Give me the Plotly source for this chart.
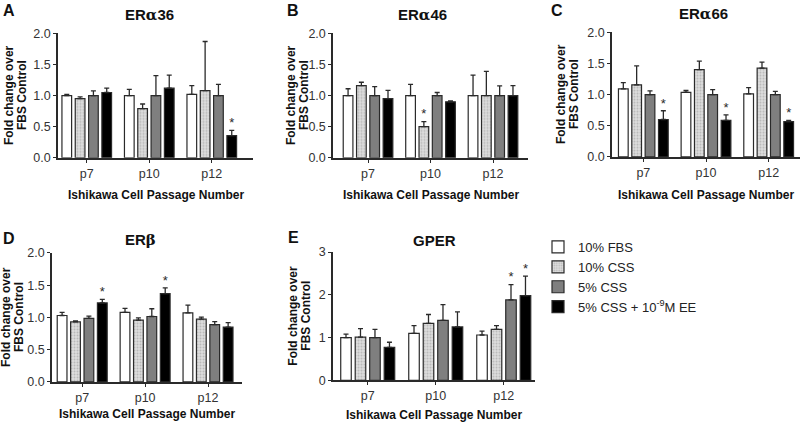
import plotly.graph_objects as go

# passages and treatments
passages = ['p7', 'p10', 'p12']
treatments = ['10% FBS', '10% CSS', '5% CSS', '5% CSS + 10<sup>-9</sup>M EE']

# values per treatment (rows) and passage (columns); sem = upward error bar
era36_mean = [[1.0, 1.0, 1.02], [0.95, 0.79, 1.08], [1.0, 1.0, 1.0], [1.05, 1.12, 0.355]]
era36_sem = [[0.02, 0.10, 0.14], [0.03, 0.075, 0.79], [0.075, 0.32, 0.18], [0.07, 0.21, 0.085]]
era36_sig = [(3, 2)]

era46_mean = [[1.0, 1.0, 1.0], [1.16, 0.5, 1.0], [1.0, 1.0, 1.0], [0.95, 0.9, 1.0]]
era46_sem = [[0.11, 0.18, 0.33], [0.055, 0.08, 0.39], [0.145, 0.05, 0.155], [0.135, 0.015, 0.16]]
era46_sig = [(1, 1)]

era66_mean = [[1.09, 1.035, 1.01], [1.155, 1.40, 1.425], [1.0, 1.0, 1.0], [0.6, 0.585, 0.565]]
era66_sem = [[0.10, 0.03, 0.10], [0.305, 0.135, 0.095], [0.06, 0.08, 0.05], [0.14, 0.09, 0.02]]
era66_sig = [(3, 0), (3, 1), (3, 2)]

erb_mean = [[1.03, 1.08, 1.07], [0.93, 0.96, 0.975], [0.985, 1.015, 0.89], [1.225, 1.37, 0.85]]
erb_sem = [[0.05, 0.06, 0.12], [0.015, 0.035, 0.03], [0.035, 0.12, 0.045], [0.055, 0.09, 0.07]]
erb_sig = [(3, 0), (3, 1)]

gper_mean = [[1.0, 1.10, 1.06], [1.01, 1.33, 1.19], [1.0, 1.40, 1.88], [0.77, 1.25, 1.98]]
gper_sem = [[0.08, 0.18, 0.09], [0.2, 0.21, 0.09], [0.19, 0.37, 0.36], [0.12, 0.35, 0.46]]
gper_sig = [(2, 2), (3, 2)]

FONT = 'Liberation Sans, Arial, sans-serif'
INK = '#2a2a2a'
bar_width = 0.155
bar_step = 0.213

# one entry per panel: letter, title, data, axis domains and ranges, y ticks
panels = [
    dict(letter='A', title='ER<span style="font-family:DejaVu Serif">α</span>36',
         mean=era36_mean, sem=era36_sem, sig=era36_sig,
         xdom=[0.0725, 0.3163], ydom=[0.627, 0.921], xr=[-0.46, 2.66], ymax=2.0, dtick=0.5,
         title_xy=(149, 15), letter_xy=(9, 10), ytitle_x=15, xtitle_y=195),
    dict(letter='B', title='ER<span style="font-family:DejaVu Serif">α</span>46',
         mean=era46_mean, sem=era46_sem, sig=era46_sig,
         xdom=[0.4163, 0.66], ydom=[0.627, 0.921], xr=[-0.56, 2.56], ymax=2.0, dtick=0.5,
         title_xy=(422, 15), letter_xy=(293, 10), ytitle_x=297, xtitle_y=195),
    dict(letter='C', title='ER<span style="font-family:DejaVu Serif">α</span>66',
         mean=era66_mean, sem=era66_sem, sig=era66_sig,
         xdom=[0.765, 1.0], ydom=[0.629, 0.924], xr=[-0.5, 2.5], ymax=2.0, dtick=0.5,
         title_xy=(703, 14), letter_xy=(557, 10), ytitle_x=567, xtitle_y=195),
    dict(letter='D', title='ER<span style="font-family:DejaVu Serif">β</span>',
         mean=erb_mean, sem=erb_sem, sig=erb_sig,
         xdom=[0.065, 0.3025], ydom=[0.097, 0.402], xr=[-0.48, 2.54], ymax=2.0, dtick=0.5,
         title_xy=(140, 240), letter_xy=(9, 238), ytitle_x=13, xtitle_y=414),
    dict(letter='E', title='GPER',
         mean=gper_mean, sem=gper_sem, sig=gper_sig,
         xdom=[0.4163, 0.6688], ydom=[0.101, 0.404], xr=[-0.51, 2.46], ymax=3.0, dtick=1,
         title_xy=(435, 240), letter_xy=(293, 237), ytitle_x=300, xtitle_y=415),
]

fills = [
    dict(color='#ffffff'),
    dict(color='#d6d6d6', pattern=dict(shape='.', bgcolor='#dedede', fgcolor='#b8b8b8', size=3, solidity=0.35)),
    dict(color='#7f7f7f'),
    dict(color='#000000'),
]

W, H = 800, 423
fig = go.Figure()
annotations = []

for p_i, p in enumerate(panels):
    suffix = '' if p_i == 0 else str(p_i + 1)
    xref, yref = 'x' + suffix, 'y' + suffix
    for s_i, name in enumerate(treatments):
        xs = [g + (s_i - 1.5) * bar_step for g in range(len(passages))]
        fig.add_trace(go.Bar(
            x=xs, y=p['mean'][s_i], width=bar_width, name=name,
            marker=dict(line=dict(color=INK, width=1.2), **fills[s_i]),
            error_y=dict(type='data', symmetric=False, array=p['sem'][s_i],
                         arrayminus=[0] * len(passages), color=INK, thickness=1.3, width=2.5),
            xaxis=xref, yaxis=yref, showlegend=(p_i == 0), legendrank=s_i,
        ))
    # significance stars sit just above the error bar
    star_x = [g + (s - 1.5) * bar_step for s, g in p['sig']]
    star_y = [p['mean'][s][g] + p['sem'][s][g] for s, g in p['sig']]
    fig.add_trace(go.Scatter(
        x=star_x, y=star_y, mode='text', text=['*'] * len(star_x), textposition='top center',
        textfont=dict(family=FONT, size=13, color=INK), xaxis=xref, yaxis=yref,
        showlegend=False, cliponaxis=False, hoverinfo='skip',
    ))

    n_ticks = int(round(p['ymax'] / p['dtick'])) + 1
    yticks = [i * p['dtick'] for i in range(n_ticks)]
    fig.update_layout(**{
        'xaxis' + suffix: dict(
            domain=p['xdom'], range=p['xr'], anchor=yref, tickvals=list(range(len(passages))),
            ticktext=passages, ticks='outside', ticklen=3, tickcolor=INK, showline=True,
            linecolor=INK, linewidth=1.5, showgrid=False, zeroline=False, automargin=False,
            tickfont=dict(family=FONT, size=12.5, color='#333')),
        'yaxis' + suffix: dict(
            domain=p['ydom'], range=[0, p['ymax']], anchor=xref, tickvals=yticks,
            tickformat='.1f' if p['dtick'] < 1 else 'd', ticks='outside', ticklen=3,
            tickcolor=INK, showline=True, linecolor=INK, linewidth=1.5, showgrid=False,
            zeroline=False, automargin=False, tickfont=dict(family=FONT, size=12.5, color='#333')),
    })

    tx, ty = p['title_xy']
    lx, ly = p['letter_xy']
    ymid = (p['ydom'][0] + p['ydom'][1]) / 2
    xmid = (p['xdom'][0] + p['xdom'][1]) / 2
    bold12 = dict(family=FONT, size=12, color='#111', weight='bold')
    annotations += [
        dict(text=p['title'], x=tx / W, y=1 - ty / H, font=dict(family=FONT, size=15, color='#111', weight='bold')),
        dict(text=p['letter'], x=lx / W, y=1 - ly / H, font=dict(family=FONT, size=16, color='#111', weight='bold')),
        # two-line y title, lines set close together as in the original
        dict(text='Fold change over', x=(p['ytitle_x'] - 6.5) / W, y=ymid, textangle=-90, font=bold12),
        dict(text='FBS Control', x=(p['ytitle_x'] + 6.5) / W, y=ymid, textangle=-90, font=bold12),
        dict(text='Ishikawa Cell Passage Number', x=xmid, y=1 - p['xtitle_y'] / H, font=bold12),
    ]

for a in annotations:
    a.update(xref='paper', yref='paper', showarrow=False, xanchor='center', yanchor='middle')

fig.update_layout(
    template='none',
    width=W, height=H, margin=dict(l=0, r=0, t=0, b=0, pad=0, autoexpand=False),
    paper_bgcolor='white', plot_bgcolor='white', barmode='overlay',
    annotations=annotations,
    legend=dict(x=538 / W, y=1 - 232 / H, xanchor='left', yanchor='top',
                font=dict(family=FONT, size=13, color='#222'), itemwidth=30,
                bgcolor='rgba(0,0,0,0)', tracegroupgap=0),
    showlegend=True,
)

# drop the page's default body margin so the 800x423 figure fills the window
fig.write_html('out.html', config={'displayModeBar': False},
               post_script="document.body.style.margin='0';document.body.style.overflow='hidden';")
